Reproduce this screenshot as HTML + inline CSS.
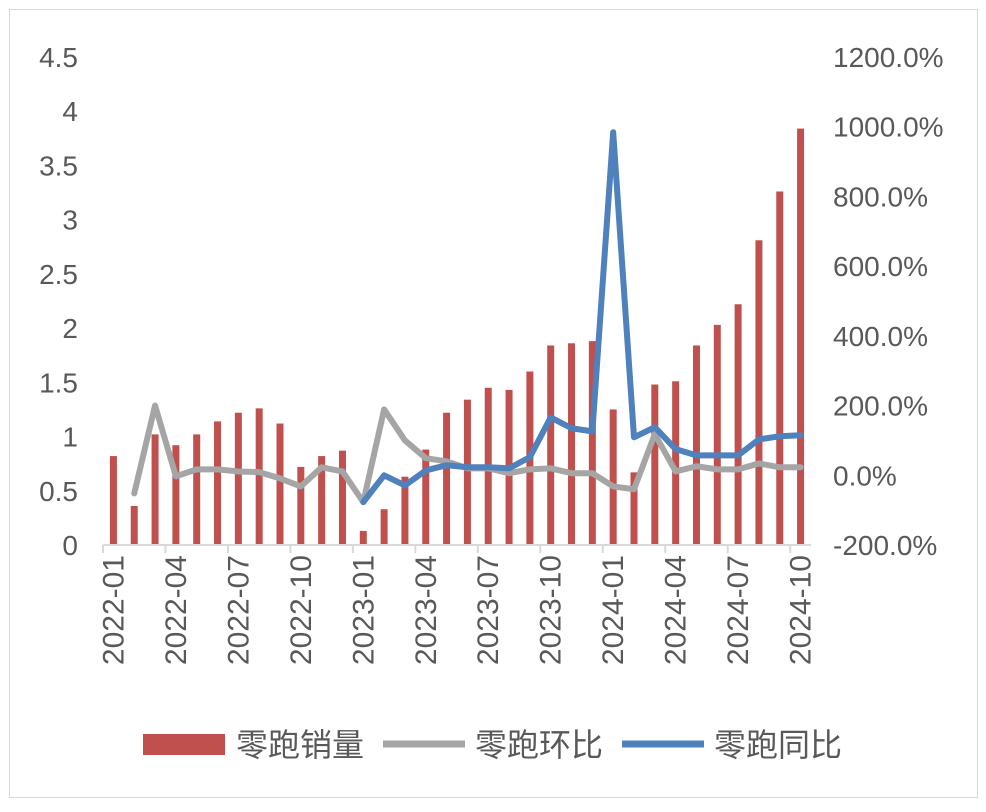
<!DOCTYPE html>
<html><head><meta charset="utf-8"><style>
body{margin:0;background:#fff;}
svg text{font-family:"Liberation Sans","Noto Sans CJK SC",sans-serif;fill:#595959;}
</style></head><body>
<svg width="986" height="807" viewBox="0 0 986 807">
<rect x="9.5" y="9.5" width="968" height="788" fill="#fff" stroke="#d9d9d9"/>
<g id="bars"></g>
<g id="axes"></g>
<g id="lines"></g>
<g>
<g><rect x="143" y="734" width="82" height="21" fill="#c0504d"/><text x="236" y="756" font-size="32">零跑销量</text></g>
<g><line x1="383" y1="744" x2="465" y2="744" stroke="#a5a5a5" stroke-width="7"/><text x="475" y="756" font-size="32">零跑环比</text></g>
<g><line x1="622" y1="744" x2="704" y2="744" stroke="#4f81bd" stroke-width="7"/><text x="714" y="756" font-size="32">零跑同比</text></g>
</g>
</svg>
<script>
const categories=["2022-01","2022-02","2022-03","2022-04","2022-05","2022-06","2022-07","2022-08","2022-09","2022-10","2022-11","2022-12","2023-01","2023-02","2023-03","2023-04","2023-05","2023-06","2023-07","2023-08","2023-09","2023-10","2023-11","2023-12","2024-01","2024-02","2024-03","2024-04","2024-05","2024-06","2024-07","2024-08","2024-09","2024-10"];
const sales=[0.82,0.36,1.02,0.92,1.02,1.14,1.22,1.26,1.12,0.72,0.82,0.87,0.13,0.33,0.63,0.88,1.22,1.34,1.45,1.43,1.60,1.84,1.86,1.88,1.25,0.67,1.48,1.51,1.84,2.03,2.22,2.81,3.26,3.84];
const mom=[null,-52,200,-3,17,17,11,9,-9,-32,23,11,-77,189,100,49,40,20,20,6,17,20,6,6,-32,-40,118,11,26,17,17,34,23,23];
const yoy=[null,null,null,null,null,null,null,null,null,null,null,null,-77,0,-29,14,29,23,23,20,52,166,135,126,984,109,138,75,57,57,57,103,112,115];
const leftTicks=["0","0.5","1","1.5","2","2.5","3","3.5","4","4.5"];
const rightTicks=["-200.0%","0.0%","200.0%","400.0%","600.0%","800.0%","1000.0%","1200.0%"];
const NS="http://www.w3.org/2000/svg";
const X0=103,X1=811,Y0=545,Y1=57;
const step=(X1-X0)/categories.length;
const xc=i=>X0+step*(i+0.5);
const yL=v=>Y0-(v/4.5)*(Y0-Y1);
const yR=v=>Y0-((v+200)/1400)*(Y0-Y1);
function mk(t,a,p){const e=document.createElementNS(NS,t);for(const k in a)e.setAttribute(k,a[k]);p.appendChild(e);return e;}
const bars=document.getElementById('bars'),axes=document.getElementById('axes'),lines=document.getElementById('lines');
sales.forEach((v,i)=>{const r=mk('rect',{x:xc(i)-3.5,y:yL(v),width:7,height:Y0-yL(v),fill:'#c0504d'},bars);

});
const ax=mk('line',{x1:X0,y1:Y0,x2:X1,y2:Y0,stroke:'#d9d9d9','stroke-width':2},axes);


for(let i=0;i<=categories.length;i+=3){const t=mk('line',{x1:X0+step*i,y1:Y0,x2:X0+step*i,y2:Y0+8,stroke:'#d9d9d9','stroke-width':2},axes);

}
categories.forEach((c,i)=>{if(i%3!==0&&i!==categories.length-1)return;
const t=mk('text',{x:0,y:0,'font-size':30,'text-anchor':'end',transform:`translate(${xc(i)+10},555) rotate(-90)`},axes);t.textContent=c;

});
leftTicks.forEach(s=>{const t=mk('text',{x:78,y:yL(parseFloat(s))+10,'font-size':28,'text-anchor':'end'},axes);t.textContent=s;

});
rightTicks.forEach(s=>{const t=mk('text',{x:833,y:yR(parseFloat(s))+10,'font-size':28},axes);t.textContent=s;

});
function path(arr,color,name){let d='';arr.forEach((v,i)=>{if(v===null)return;d+=(d?'L':'M')+xc(i)+','+yR(v);});
const p=mk('path',{d:d,fill:'none',stroke:color,'stroke-width':6,'stroke-linejoin':'round','stroke-linecap':'round'},lines);

}
path(mom,'#a5a5a5','mom-line');
path(yoy,'#4f81bd','yoy-line');
</script>
</body></html>
